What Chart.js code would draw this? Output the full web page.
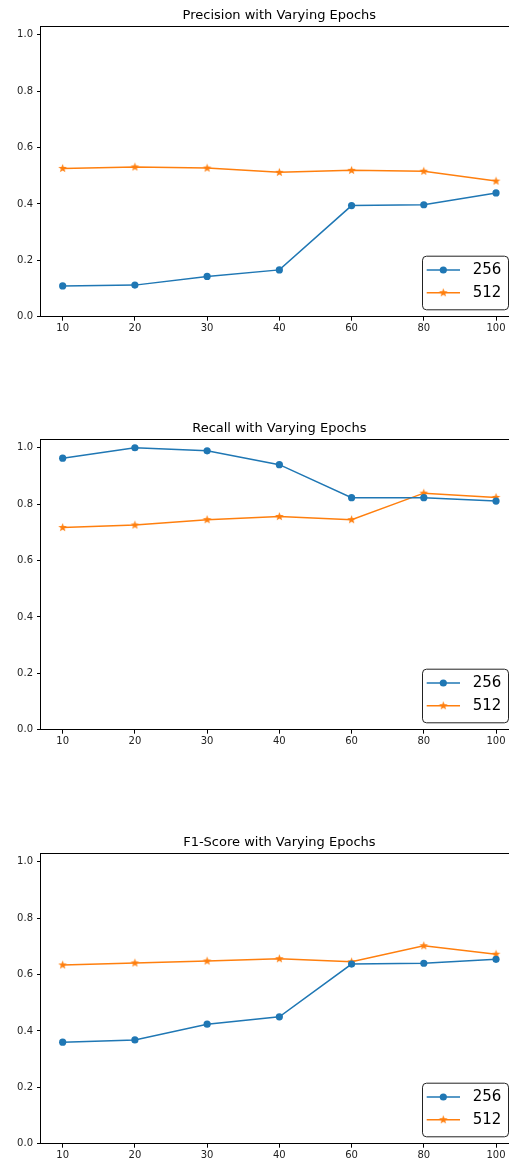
<!DOCTYPE html>
<html>
<head>
<meta charset="utf-8">
<script src="https://cdn.jsdelivr.net/npm/chart.js@4.4.0/dist/chart.umd.min.js"></script>
<style>
  body { margin: 0; background: #fff; overflow: hidden; width: 509px; height: 1164px; position: relative; }
  canvas { position: absolute; left: 0; }
</style>
</head>
<body>
<canvas id="precisionChart" style="top:0px"></canvas>
<canvas id="recallChart" style="top:413px"></canvas>
<canvas id="f1Chart" style="top:827px"></canvas>
<script>
// Epoch counts on the x axis
const epochs = ["10", "20", "30", "40", "60", "80", "100"];
const yTicks = [0, 0.2, 0.4, 0.6, 0.8, 1.0];

// Scores for batch size 256 and 512
const precision256 = [0.109, 0.112, 0.143, 0.166, 0.394, 0.397, 0.439];
const precision512 = [0.526, 0.531, 0.527, 0.512, 0.519, 0.516, 0.481];
const recall256 = [0.963, 1.0, 0.989, 0.940, 0.823, 0.823, 0.811];
const recall512 = [0.717, 0.726, 0.745, 0.756, 0.745, 0.839, 0.824];
const f1256 = [0.360, 0.368, 0.424, 0.450, 0.637, 0.640, 0.654];
const f1512 = [0.634, 0.641, 0.648, 0.656, 0.645, 0.702, 0.672];

const BLUE = "#1f77b4";
const ORANGE = "#ff7f0e";
const FONT = "'DejaVu Sans', sans-serif";

// filled five-point star used as the 512 marker
function makeStar(color) {
  const c = document.createElement("canvas");
  c.width = 11; c.height = 11;
  const g = c.getContext("2d");
  g.fillStyle = color;
  g.beginPath();
  for (let k = 0; k < 10; k++) {
    const r = k % 2 === 0 ? 4.6 : 1.9;
    const a = -Math.PI / 2 + k * Math.PI / 5;
    const px = 5.5 + r * Math.cos(a), py = 5.5 + r * Math.sin(a);
    if (k === 0) g.moveTo(px, py); else g.lineTo(px, py);
  }
  g.closePath();
  g.fill();
  return c;
}
const starOrange = makeStar(ORANGE);

// centre the title over the axes rather than the whole canvas
const titleOverAxes = {
  id: "titleOverAxes",
  afterLayout(chart) {
    const t = chart.titleBlock;
    if (!t) return;
    t.left = chart.chartArea.left;
    t.right = chart.chartArea.right;
    t.width = t.right - t.left;
  }
};

// axes frame (all four spines)
const framePlugin = {
  id: "frame",
  afterDraw(chart) {
    const { ctx, chartArea: a } = chart;
    ctx.save();
    ctx.strokeStyle = "#000";
    ctx.lineWidth = 1;
    ctx.strokeRect(Math.round(a.left) - 0.5, Math.round(a.top) + 0.5, Math.round(a.right - a.left) + 1, Math.round(a.bottom - a.top));
    ctx.restore();
  }
};

// legend box in the lower right corner of the axes
const boxLegend = {
  id: "boxLegend",
  afterDraw(chart) {
    const { ctx, chartArea: a } = chart;
    const w = 86, h = 53.6;
    const x = a.right - 9.7 - w;
    const y = a.bottom - 7.4 - h;
    ctx.save();
    ctx.beginPath();
    ctx.roundRect(x + 0.5, y + 0.5, w, h, 4);
    ctx.fillStyle = "rgba(255,255,255,0.9)";
    ctx.fill();
    ctx.strokeStyle = "#222";
    ctx.lineWidth = 1;
    ctx.stroke();
    chart.data.datasets.forEach((ds, i) => {
      const cy = y + 14.3 + i * 22.7;
      ctx.strokeStyle = ds.borderColor;
      ctx.lineWidth = 1.5;
      ctx.beginPath();
      ctx.moveTo(x + 4.7, cy);
      ctx.lineTo(x + 38, cy);
      ctx.stroke();
      const mx = x + 21.3;
      if (ds.pointStyle === "circle") {
        ctx.fillStyle = ds.borderColor;
        ctx.beginPath();
        ctx.arc(mx, cy, ds.pointRadius, 0, Math.PI * 2);
        ctx.fill();
      } else {
        ctx.drawImage(ds.pointStyle, mx - 5.5, cy - 5.5);
      }
      ctx.fillStyle = "#000";
      ctx.font = "15px " + FONT;
      ctx.textBaseline = "middle";
      ctx.textAlign = "left";
      ctx.fillText(ds.label, x + 50.7, cy + 0.5);
    });
    ctx.restore();
  }
};

function toPoints(values) {
  return values.map((v, i) => ({ x: i, y: v }));
}

function drawPanel(id, title, s256, s512) {
  const canvas = document.getElementById(id);
  canvas.width = 559; canvas.height = 340;
  canvas.style.width = "559px"; canvas.style.height = "340px";
  new Chart(canvas, {
    type: "line",
    data: {
      datasets: [
        { label: "256", data: toPoints(s256), borderColor: BLUE, backgroundColor: BLUE,
          borderWidth: 1.5, pointStyle: "circle", pointRadius: 3.6, pointBorderWidth: 0, tension: 0 },
        { label: "512", data: toPoints(s512), borderColor: ORANGE, backgroundColor: ORANGE,
          borderWidth: 1.5, pointStyle: starOrange, pointRadius: 4.5, tension: 0 }
      ]
    },
    options: {
      responsive: false,
      animation: false,
      events: [],
      layout: { padding: { left: 0, right: 41.3, top: 0, bottom: 0 } },
      plugins: {
        legend: { display: false },
        tooltip: { enabled: false },
        title: {
          display: true, text: title, color: "#000",
          font: { family: FONT, size: 13, weight: "normal", lineHeight: 1.2 },
          padding: { top: 7.5, bottom: 3.2 }
        }
      },
      scales: {
        x: {
          type: "linear", min: -0.3, max: 6.3,
          afterFit(scale) { scale.height = 23.3; },
          grid: { display: true, drawOnChartArea: false, drawTicks: true, tickLength: 4, color: "#000" },
          border: { display: false },
          afterBuildTicks(scale) { scale.ticks = epochs.map((e, i) => ({ value: i })); },
          ticks: {
            autoSkip: false, maxRotation: 0, padding: 2, color: "#222",
            font: { family: FONT, size: 10 },
            callback: (v) => epochs[v]
          }
        },
        y: {
          min: 0, max: 1.03,
          afterFit(scale) { scale.width = 41; },
          grid: { display: true, drawOnChartArea: false, drawTicks: true, tickLength: 4, color: "#000" },
          border: { display: false },
          afterBuildTicks(scale) { scale.ticks = yTicks.map(v => ({ value: v })); },
          ticks: {
            padding: 4, color: "#222",
            font: { family: FONT, size: 10 },
            callback: (v) => v.toFixed(1)
          }
        }
      }
    },
    plugins: [titleOverAxes, framePlugin, boxLegend]
  });
}

drawPanel("precisionChart", "Precision with Varying Epochs", precision256, precision512);
drawPanel("recallChart", "Recall with Varying Epochs", recall256, recall512);
drawPanel("f1Chart", "F1-Score with Varying Epochs", f1256, f1512);
</script>
</body>
</html>
